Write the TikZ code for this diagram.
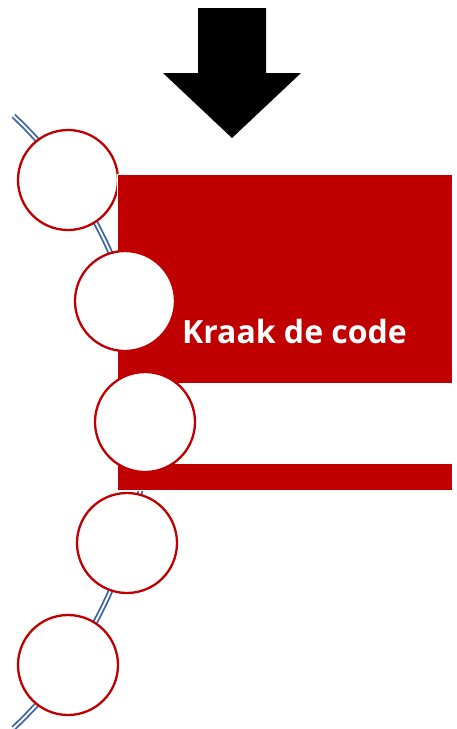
\documentclass[tikz,border=0pt]{standalone}
\usepackage{fontspec}
\setmainfont{Open Sans}
\definecolor{dkred}{RGB}{192,0,0}
\definecolor{lineblue}{RGB}{59,98,165}
\tikzset{
  circ/.style={circle, draw=dkred, line width=2.3pt, fill=white, minimum size=100pt, inner sep=0pt},
  bandbox/.style={draw=white, line width=0.8pt, fill=dkred, anchor=north west, inner sep=0pt, minimum width=335pt, minimum height=316pt},
  whiteband/.style={fill=white, anchor=north west, inner sep=0pt, minimum width=335pt, minimum height=81pt},
  track/.style={draw=lineblue, line width=1.8pt, double=white, double distance=1.9pt},
  bigarrow/.style={fill=black}
}
\begin{document}
\begin{tikzpicture}[x=1pt,y=-1pt]
\useasboundingbox (0,0) rectangle (457,729);
% curved double track
\draw[track] (-274,422) ++(-46.8:420) arc[start angle=-46.8, end angle=46.8, radius=420];
% first circle (behind the box)
\node[circ] (c1) at (68,180) {};
% red box
\node[bandbox] (box) at (117,174) {};
\node[whiteband] (band) at (117.4,383) {};
\node[font=\bfseries, text=white, anchor=base, inner sep=0pt] (title) at (294.5,343) {\fontsize{32}{36}\selectfont Kraak de code};
% other circles
\node[circ] (c2) at (125,301) {};
\node[circ] (c3) at (145,422) {};
\node[circ] (c4) at (127,543) {};
\node[circ] (c5) at (68,665) {};
% down arrow
\fill[bigarrow] (198,8) -- (266,8) -- (266,73) -- (301,73) -- (232,138) -- (163,73) -- (198,73) -- cycle;
\end{tikzpicture}
\end{document}
